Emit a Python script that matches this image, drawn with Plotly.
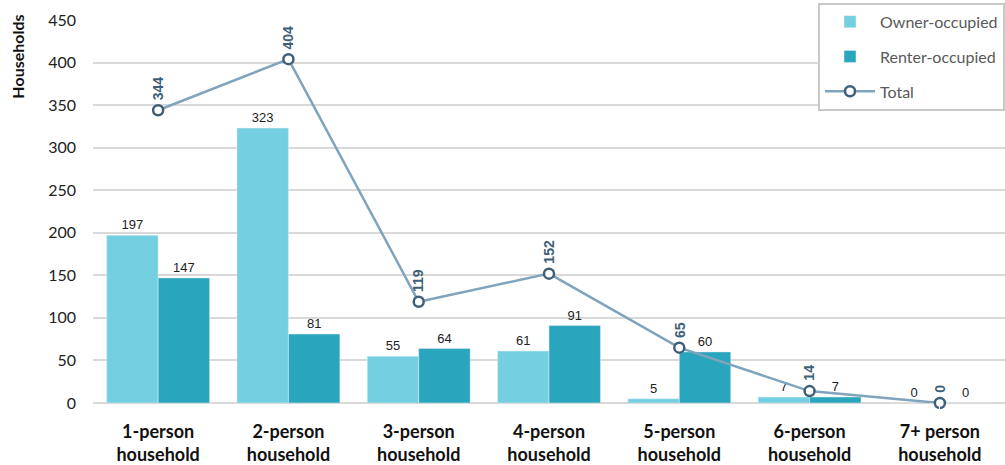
import plotly.graph_objects as go

categories = ["1-person<br>household", "2-person<br>household", "3-person<br>household",
              "4-person<br>household", "5-person<br>household", "6-person<br>household",
              "7+ person<br>household"]
owner = [197, 323, 55, 61, 5, 7, 0]
renter = [147, 81, 64, 91, 60, 7, 0]
total = [344, 404, 119, 152, 65, 14, 0]

FONT = "Lato"
fig = go.Figure()
fig.add_trace(go.Bar(x=categories, y=owner, name="Owner-occupied", marker_color="#74D0E0",
                     legendgroup="a",
                     text=owner, textposition="outside", cliponaxis=False,
                     textfont=dict(size=13, color="#222", family="Liberation Sans")))
fig.add_trace(go.Bar(x=categories, y=renter, name="Renter-occupied", marker_color="#29A5BD",
                     legendgroup="b",
                     text=renter, textposition="outside", cliponaxis=False,
                     textfont=dict(size=13, color="#222", family="Liberation Sans")))
fig.add_trace(go.Scatter(x=categories, y=total, name="Total", mode="lines+markers",
                         legendgroup="c",
                         line=dict(color="#7FA4BC", width=2.5),
                         marker=dict(symbol="circle", size=10, color="white",
                                     line=dict(color="#3F5F78", width=2.5)),
                         cliponaxis=False))
for c, t in zip(categories, total):
    fig.add_annotation(x=c, y=t, text="<b>" + str(t) + "</b>", textangle=-90, showarrow=False,
                       yanchor="bottom", yshift=8,
                       font=dict(size=14, color="#3F5F78", family="Liberation Sans"))

fig.add_annotation(xref="paper", yref="paper", x=-0.083, y=1.02, xanchor="center", yanchor="top",
                   text="<b>Households</b>", textangle=-90, showarrow=False,
                   font=dict(size=16, family=FONT, color="#111"))

fig.update_layout(
    width=1005, height=465, margin=dict(l=93, r=0, t=20, b=62),
    paper_bgcolor="white", plot_bgcolor="white",
    barmode="group", bargap=0.21, bargroupgap=0,
    font=dict(family=FONT, color="#222"),
    legend=dict(x=0.795, y=1.045, xanchor="left", yanchor="top",
                bordercolor="#C8C8C8", borderwidth=2, bgcolor="white",
                font=dict(size=16, color="#595959", family=FONT),
                tracegroupgap=11, itemwidth=50),
    yaxis=dict(range=[0, 450], dtick=50, gridcolor="#D9D9D9", gridwidth=1.5,
               zeroline=True, zerolinecolor="#D9D9D9", zerolinewidth=1.5,
               tickfont=dict(size=16, color="#222", family=FONT),
               ticksuffix="\u2002\u2002"),
    xaxis=dict(tickfont=dict(size=18, color="#111", family=FONT), showgrid=False,
               ticks="outside", ticklen=12, tickcolor="white"),
)
fig.update_xaxes(ticktext=["<b>" + c + "</b>" for c in categories], tickvals=categories)
fig.write_html("out.html")
